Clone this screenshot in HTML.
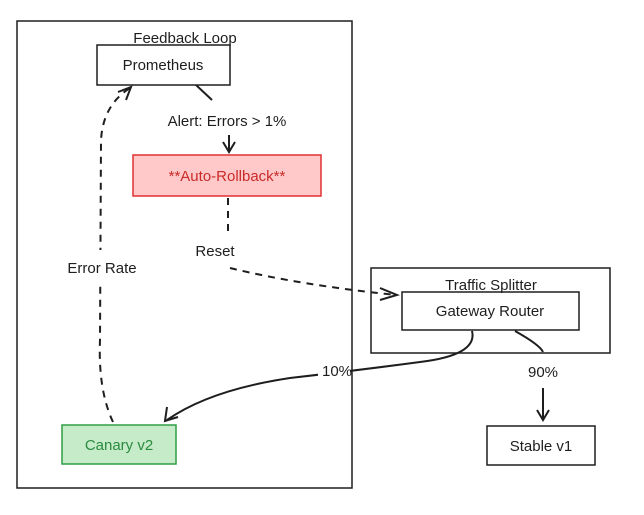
<!DOCTYPE html>
<html><head><meta charset="utf-8"><style>
html,body{margin:0;padding:0;background:#fff;}
svg text{font-family:"Liberation Sans",sans-serif;font-size:15px;fill:#1e1e1e;}
</style></head><body>
<svg width="644" height="510" viewBox="0 0 644 510" xmlns="http://www.w3.org/2000/svg">
<rect width="644" height="510" fill="#fff"/>
<g fill="none" stroke="#1e1e1e" stroke-width="2">
<path d="M196 85 L212 100"/>
<path d="M229 135 L229 152 M223 142 L229 152 L235 142"/>
<path d="M228 198 L228 234" stroke-dasharray="7 6"/>
<path d="M230 268 Q300 285 396 295" stroke-dasharray="7 6"/>
<path d="M380 288 L397 295 L380 300"/>
<path d="M113 422 Q98 390 100 340 L101 140 Q103 105 130 88" stroke-dasharray="7 6"/>
<path d="M118 92 L131 87 L126 100"/>
<path d="M472 331 Q478 355 420 362 Q360 370 290 378 Q210 390 167 420"/>
<path d="M167 407 L165 421 L178 417"/>
<path d="M515 331 Q540 345 543 352"/>
<path d="M543 388 L543 420 M537 410 L543 420 L549 410"/>
</g>
<rect x="50" y="250" width="104" height="34" fill="#fff"/>
<rect x="318" y="360" width="32" height="22" fill="#fff"/>
<g fill="none" stroke="#1e1e1e" stroke-width="1.5">
<rect x="17" y="21" width="335" height="467"/>
<rect x="97" y="45" width="133" height="40" fill="#fff"/>
<rect x="371" y="268" width="239" height="85"/>
<rect x="402" y="292" width="177" height="38" fill="#fff"/>
<rect x="487" y="426" width="108" height="39" fill="#fff"/>
</g>
<rect x="133" y="155" width="188" height="41" fill="#ffc9c9" stroke="#e03131" stroke-width="1.5"/>
<rect x="62" y="425" width="114" height="39" fill="#c5ebc9" stroke="#2f9e44" stroke-width="1.5"/>
<text x="185" y="43" text-anchor="middle">Feedback Loop</text>
<text x="163" y="70" text-anchor="middle">Prometheus</text>
<text x="227" y="126" text-anchor="middle">Alert: Errors &gt; 1%</text>
<text x="227" y="181" text-anchor="middle" style="fill:#c92a2a">**Auto-Rollback**</text>
<text x="215" y="256" text-anchor="middle">Reset</text>
<text x="102" y="273" text-anchor="middle">Error Rate</text>
<text x="491" y="290" text-anchor="middle">Traffic Splitter</text>
<text x="490" y="316" text-anchor="middle">Gateway Router</text>
<text x="337" y="376" text-anchor="middle">10%</text>
<text x="543" y="377" text-anchor="middle">90%</text>
<text x="119" y="450" text-anchor="middle" style="fill:#2b8a3e">Canary v2</text>
<text x="541" y="451" text-anchor="middle">Stable v1</text>
</svg>
</body></html>
